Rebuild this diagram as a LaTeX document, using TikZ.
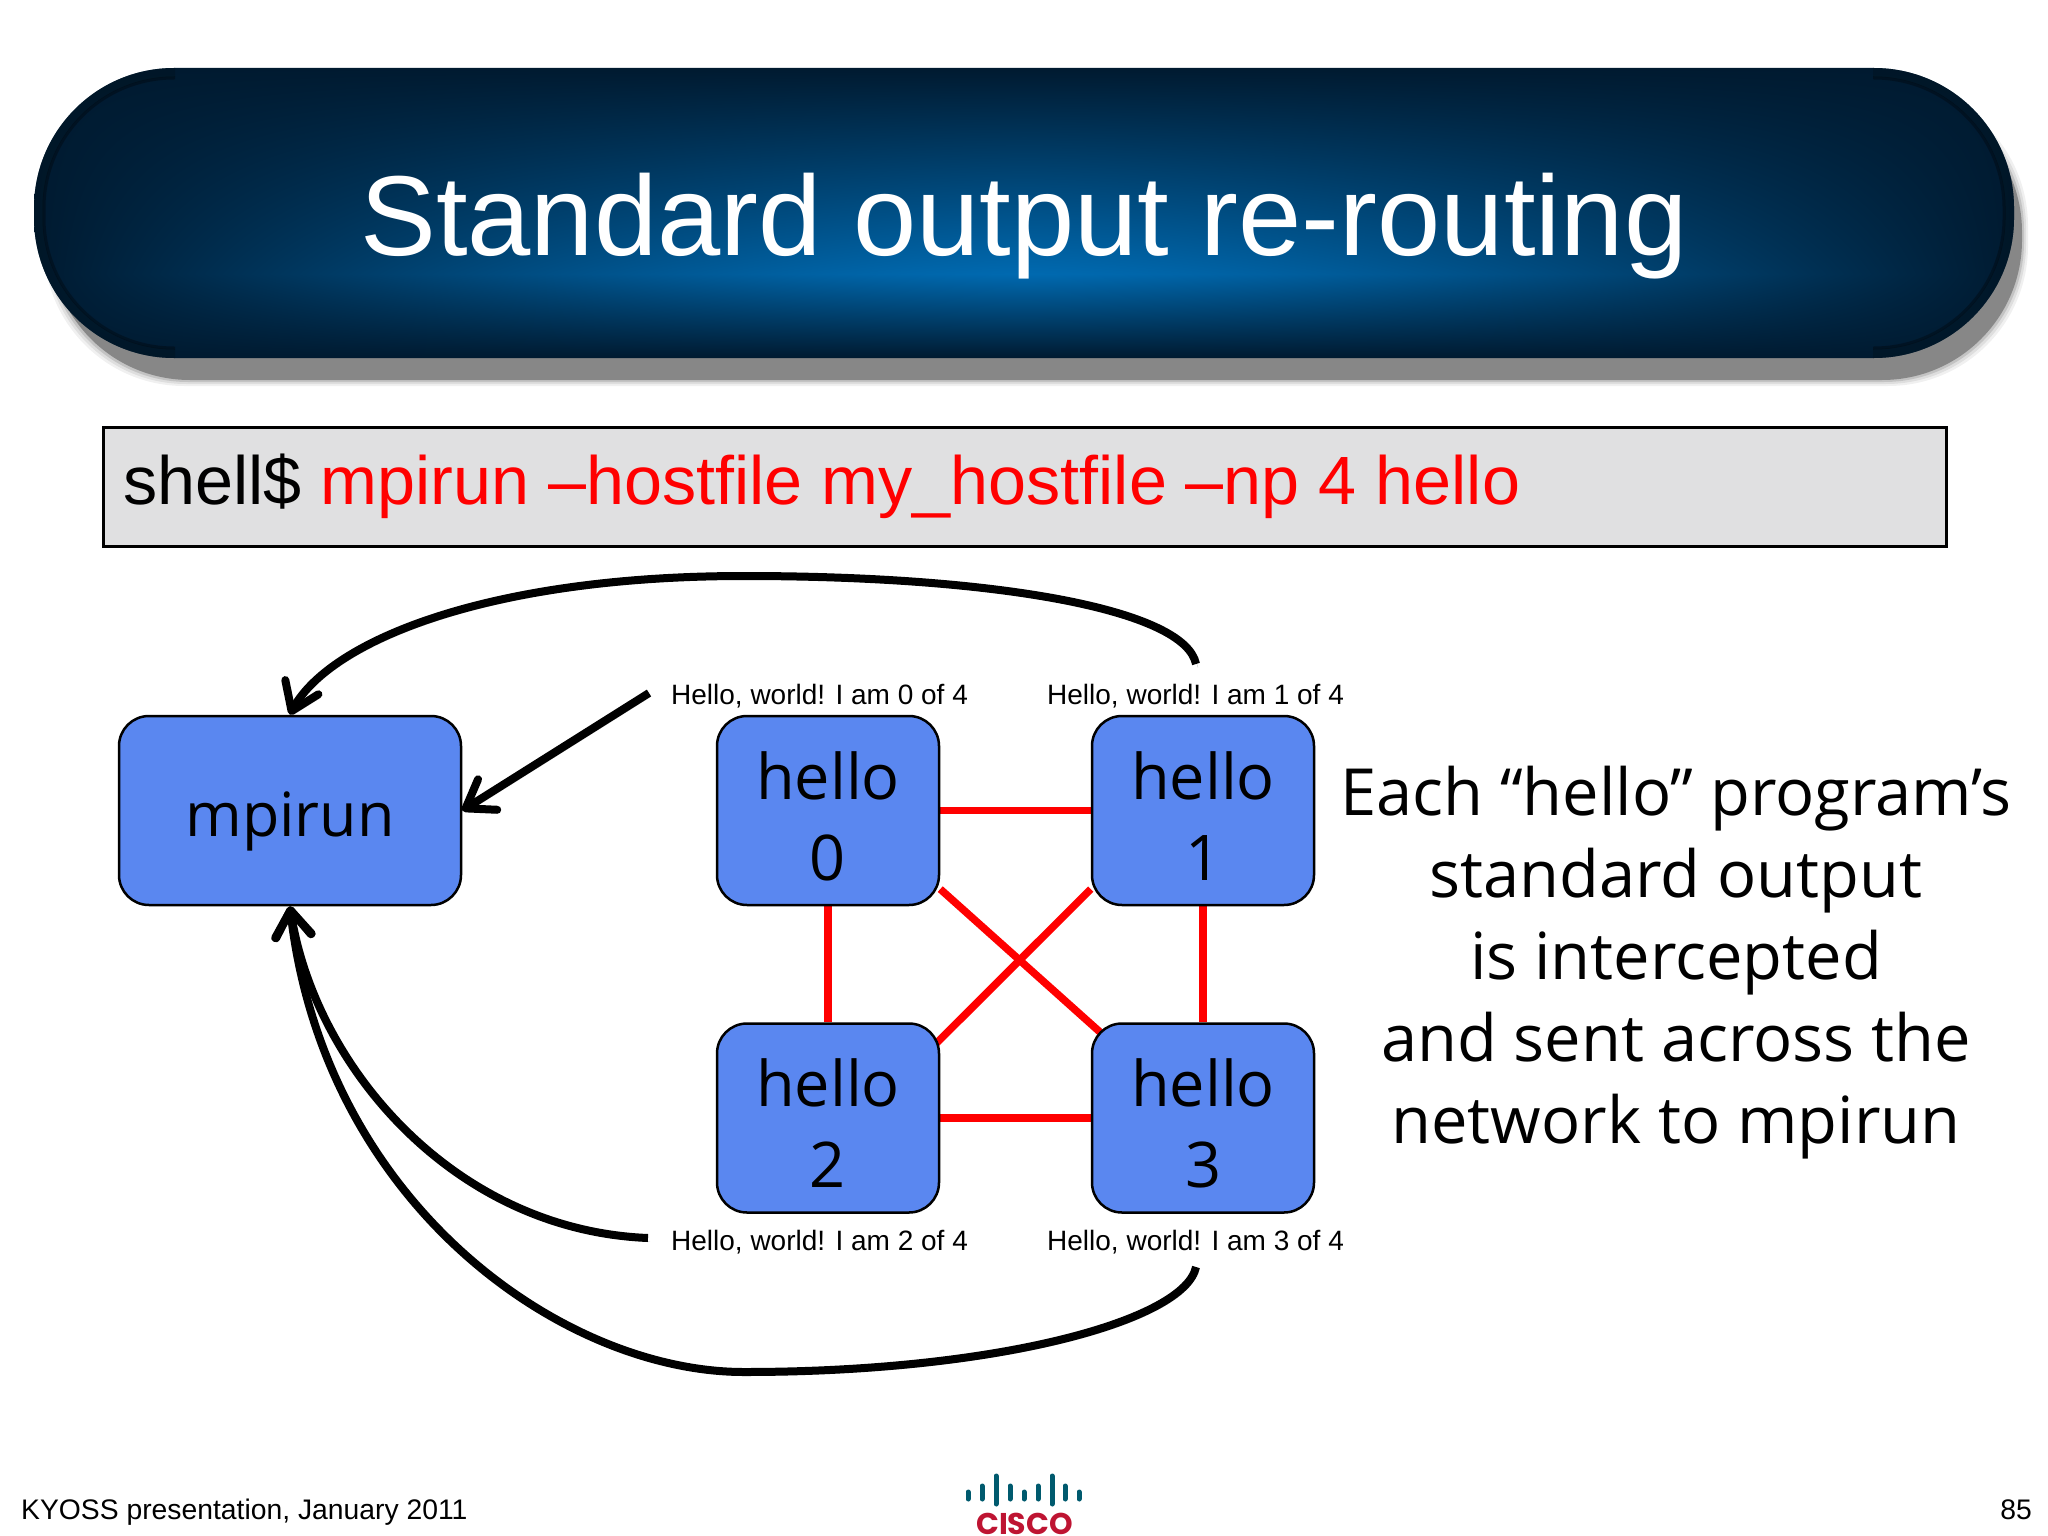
\documentclass[tikz,border=0pt]{standalone}
\usepackage{fontspec}
\setmainfont{Liberation Sans}
\newfontfamily\boxfont{Open Sans}
\newfontfamily\logofont{Poppins}
\usetikzlibrary{arrows.meta,bending,backgrounds}
\definecolor{boxblue}{RGB}{90,135,240}
\definecolor{cmdgray}{RGB}{224,224,225}
\definecolor{ciscoteal}{RGB}{0,90,110}
\definecolor{ciscored}{RGB}{190,20,50}
\definecolor{bandrim}{RGB}{0,20,34}
\pgfdeclarefunctionalshading{titleglow}{\pgfpointorigin}{\pgfpoint{100bp}{100bp}}{}{
 25 sub 2 mul exch 25 sub 2 mul exch
 dup 29 lt { 29 div } { 100 exch sub 71 div } ifelse
 exch 50 sub abs 50 div 1.5 exp 1 exch sub
 mul
 dup 0.31 mul 0.102 add exch 0.50 mul 0.188 add 0 3 1 roll
}
\newcommand{\lineup}[1]{\smash{\raisebox{-29pt}{#1}}}
\tikzset{
 x=1pt,y=-1pt,
 pill/.style={rounded corners=140pt},
 procbox/.style={draw=black,line width=2.5pt,fill=boxblue,rounded corners=30pt,text width=200pt,align=center,inner sep=0pt,minimum width=222pt,minimum height=189pt,font=\boxfont\fontsize{63}{81}\selectfont},
 mainbox/.style={procbox,text width=320pt,minimum width=342pt,font=\boxfont\fontsize{61}{81}\selectfont},
 linkred/.style={draw=red,line width=7.5pt},
 hellotext/.style={font=\fontsize{28}{34}\selectfont,anchor=base west,inner sep=0pt},
 explain/.style={font=\boxfont\fontsize{65}{82}\selectfont,align=center,inner sep=0pt},
 conn/.style={draw=black,line width=8pt,-{Straight Barb[length=26pt,width=36pt,round]},
   preaction={draw=black,opacity=.22,transform canvas={shift={(2pt,-3.5pt)}}}},
 logobar/.style={draw=ciscoteal,line width=5pt,line cap=round},
}
\begin{document}
\begin{tikzpicture}
\useasboundingbox (0,0) rectangle (2048,1536);
% title shadow
\foreach \g/\o in {6/.12,4/.18,2/.3,0/1}{
 \fill[black!47,opacity=\o,pill] (50-\g,92-\g) rectangle (2022+\g,380+\g);}
\shade[shading=titleglow,pill] (34,68) rectangle (2014,358);
\begin{scope}
 \clip (0,0) rectangle (175,400) (1873,0) rectangle (2048,400);
 \clip[pill] (34,68) rectangle (2014,358);
 \draw[bandrim,opacity=.55,line width=18pt,pill] (34,68) rectangle (2014,358);
 \draw[black,opacity=.3,line width=3pt,rounded corners=130pt] (44,78) rectangle (2004,348);
\end{scope}
\node[text=white,font=\fontsize{113.7}{120}\selectfont,anchor=base,inner sep=0pt] (title) at (1024,255) {Standard output re-routing};
% command
\node[draw=black,line width=2.5pt,fill=cmdgray,minimum width=1843pt,minimum height=119pt,inner sep=0pt,anchor=north west] (cmdbox) at (102,426) {};
\node[anchor=base west,inner sep=0pt,font=\fontsize{68.3}{70}\selectfont] (cmd) at (123,504) {shell\$ \textcolor{red}{mpirun –hostfile my\_hostfile –np 4 hello}};
% boxes
\node[mainbox] (mpi) at (290,810.5) {\smash{\raisebox{-25.5pt}{mpirun}}};
\node[procbox] (h0) at (828,810.5) {\lineup{hello}\\\lineup{0}};
\node[procbox] (h1) at (1203,810.5) {\lineup{hello}\\\lineup{1}};
\node[procbox] (h2) at (828,1118) {\lineup{hello}\\\lineup{2}};
\node[procbox] (h3) at (1203,1118) {\lineup{hello}\\\lineup{3}};
\begin{pgfonlayer}{background}
\draw[linkred] (h0) -- (h1);
\draw[linkred] (h2) -- (h3);
\draw[linkred] (h0) -- (h2);
\draw[linkred] (h1) -- (h3);
\draw[linkred,shorten >=-15pt] (h0.-35) -- (h3.140);
\draw[linkred,shorten >=-15pt] (h1.215) -- (h2.35);
\end{pgfonlayer}
% labels
\node[hellotext] (l0) at (671,704) {Hello, world! I am 0 of 4};
\node[hellotext] (l1) at (1047,704) {Hello, world! I am 1 of 4};
\node[hellotext] (l2) at (671,1250) {Hello, world! I am 2 of 4};
\node[hellotext] (l3) at (1047,1250) {Hello, world! I am 3 of 4};
\coordinate (s0) at (649,693);
\coordinate (s1) at (1196,664);
\coordinate (s2) at (648,1238);
\coordinate (s3) at (1196,1267);
\draw[conn] (s1) .. controls (1185,610) and (1000,576) .. (744,576) .. controls (480,576) and (320,645) .. (mpi.north);
\draw[conn] (s0) -- (mpi.east);
\draw[conn] (s2) .. controls (450,1230) and (310,1060) .. (mpi.south);
\draw[conn] (s3) .. controls (1185,1320) and (1000,1372) .. (744,1372) .. controls (560,1372) and (320,1200) .. (mpi.south);
% side text
\node[explain,anchor=north] (expl) at (1676,766) {Each “hello” program’s\\standard output\\is intercepted\\and sent across the\\network to mpirun};
% footer
\node[anchor=base west,inner sep=0pt,font=\fontsize{28.3}{34}\selectfont] (foot) at (21,1519) {KYOSS presentation, January 2011};
\node[anchor=base east,inner sep=0pt,font=\fontsize{28.3}{34}\selectfont] (page) at (2032,1519) {85};
% logo
\foreach \x/\a/\b in {968/1490/1501,982/1484/1501,996/1474/1506,1010/1484/1501,1024/1490/1501,1038/1484/1501,1052/1474/1506,1065/1484/1501,1079/1490/1501}{
 \draw[logobar] (\x,\a+2) -- (\x,\b-2);}
\node[anchor=base,inner sep=0pt,text=ciscored,font=\logofont\bfseries\fontsize{30}{30}\selectfont] (logo) at (1024.5,1534.5) {CISCO};
\end{tikzpicture}
\end{document}
